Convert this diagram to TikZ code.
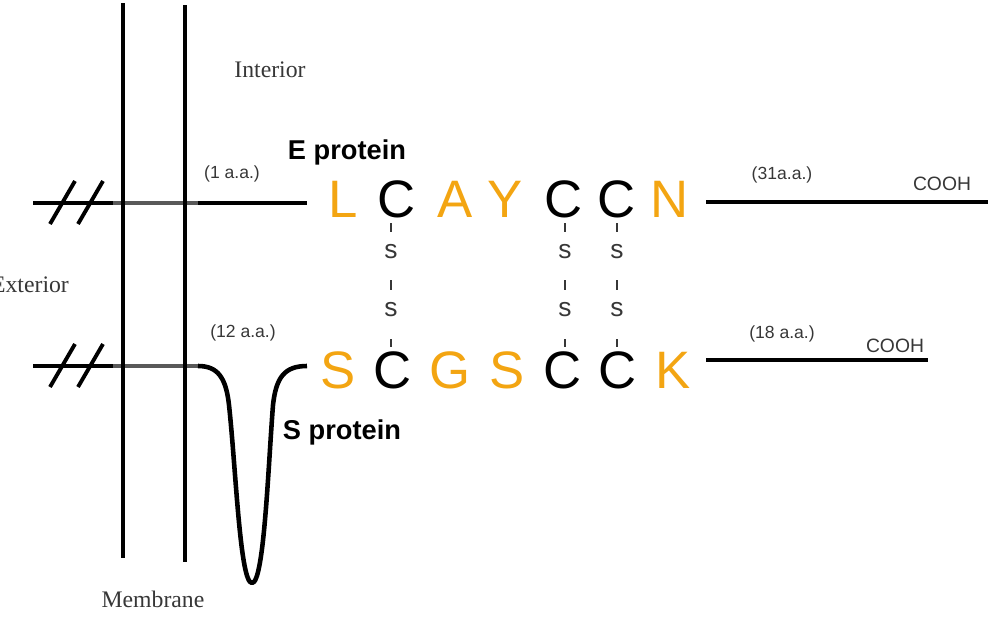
\documentclass[tikz,border=0pt]{standalone}
\usepackage{fontspec}
\setmainfont{Liberation Serif}
\setsansfont{Liberation Sans}
\usetikzlibrary{positioning}
\definecolor{resOrange}{RGB}{243, 165, 18}
\definecolor{labelGray}{RGB}{55, 55, 55}

\begin{document}
\begin{tikzpicture}[
    x=0.02cm, y=-0.02cm,
    backbone/.style={line width=2.6pt, black},
    membrane line/.style={line width=2.3pt, black},
    inner backbone/.style={line width=1.8pt, black!65},
    residue/.style={inner sep=0pt, font=\sffamily\fontsize{30}{30}\selectfont},
    sulfur/.style={inner sep=0pt, text=labelGray, font=\sffamily\fontsize{15}{15}\selectfont},
    bond/.style={line width=0.9pt, labelGray},
    aa label/.style={inner sep=0pt, text=labelGray, font=\sffamily\fontsize{10}{10}\selectfont},
    side label/.style={inner sep=0pt, text=labelGray, font=\rmfamily\fontsize{13.5}{13.5}\selectfont},
    protein label/.style={inner sep=0pt, font=\sffamily\bfseries\fontsize{15.5}{15.5}\selectfont},
]
\useasboundingbox (0,0) rectangle (1000,622);

% ---- layout parameters ----
\def\yE{203}        % y of E protein backbone
\def\yS{366}        % y of S protein backbone

% ---- backbone ends ----
\coordinate (eIn)  at (33, \yE);
\coordinate (eEnd) at (307, \yE);
\coordinate (eOut) at (706, 202);
\coordinate (eTail) at (988, 202);
\coordinate (sIn)  at (33, \yS);
\coordinate (sOut) at (706, 360);
\coordinate (sTail) at (928, 360);

% ======== E protein backbone ========
\draw[backbone] (eIn) -- (113, \yE);
\draw[inner backbone] (113, \yE) -- (198, \yE);
\draw[backbone] (198, \yE) -- (eEnd);
\draw[backbone] (eOut) -- (eTail);

% ======== S protein backbone with loop ========
\draw[backbone] (sIn) -- (113, \yS);
\draw[inner backbone] (113, \yS) -- (198, \yS);
\draw[backbone, line join=round] (198, \yS)
    .. controls (218, \yS) and (226, 378) .. (229, 405)
    .. controls (236, 470) and (240, 583) .. (252, 583)
    .. controls (264, 583) and (268, 470) .. (273, 405)
    .. controls (276, 378) and (284, \yS) .. (307, \yS);
\draw[backbone] (sOut) -- (sTail);

% ---- break marks ----
\foreach \y in {\yE, \yS} {
    \draw[backbone, line width=2.2pt] (50, \y+21) -- (75, \y-22);
    \draw[backbone, line width=2.2pt] (78, \y+21) -- (103, \y-22);
}

% ---- membrane ----
\draw[membrane line] (123, 3) -- (123, 558);
\draw[membrane line] (185, 5) -- (185, 562);

% ---- residues ----
\foreach \x/\r/\c [count=\i] in {343/L/resOrange, 397/C/black, 455/A/resOrange,
        505/Y/resOrange, 564/C/black, 617/C/black, 670/N/resOrange} {
    \node[residue, text=\c] (eR\i) at (\x, 199) {\r};
}
\foreach \x/\r/\c [count=\i] in {338/S/resOrange, 393/C/black, 450/G/resOrange,
        507/S/resOrange, 563/C/black, 618/C/black, 673/K/resOrange} {
    \node[residue, text=\c] (sR\i) at (\x, 370) {\r};
}

% ---- disulfide bonds ----
\foreach \k/\dx in {2/-6, 5/1, 6/0} {
    \draw[bond] ([xshift=\dx*0.02cm]eR\k |- 0,223) -- ([xshift=\dx*0.02cm]eR\k |- 0,232);
    \node[sulfur] (ss\k a) at ([xshift=\dx*0.02cm]eR\k |- 0,252) {s};
    \draw[bond] ([xshift=\dx*0.02cm]eR\k |- 0,280) -- ([xshift=\dx*0.02cm]eR\k |- 0,290);
    \node[sulfur] (ss\k b) at ([xshift=\dx*0.02cm]eR\k |- 0,310) {s};
    \draw[bond] ([xshift=\dx*0.02cm]eR\k |- 0,339) -- ([xshift=\dx*0.02cm]eR\k |- 0,347);
}

% ---- labels ----
\node[side label] (interior) at (270, 70) {Interior};
\node[side label] (exterior) at (30, 285) {Exterior};
\node[side label] (membrane) at (153, 599) {Membrane};
\node[protein label] (eName) at (347, 152) {E protein};
\node[protein label] (sName) at (342, 432) {S protein};
\node[aa label] (eLen) at (232, 174) {(1 a.a.)};
\node[aa label] (sLen) at (243, 333) {(12 a.a.)};
\node[aa label] (eTailLen) at (782, 175) {(31a.a.)};
\node[aa label] (sTailLen) at (782, 334) {(18 a.a.)};
\node[aa label, font=\sffamily\fontsize{11}{11}\selectfont] (eCooh) at (942, 184) {COOH};
\node[aa label, font=\sffamily\fontsize{11}{11}\selectfont] (sCooh) at (895, 346) {COOH};

\end{tikzpicture}
\end{document}
